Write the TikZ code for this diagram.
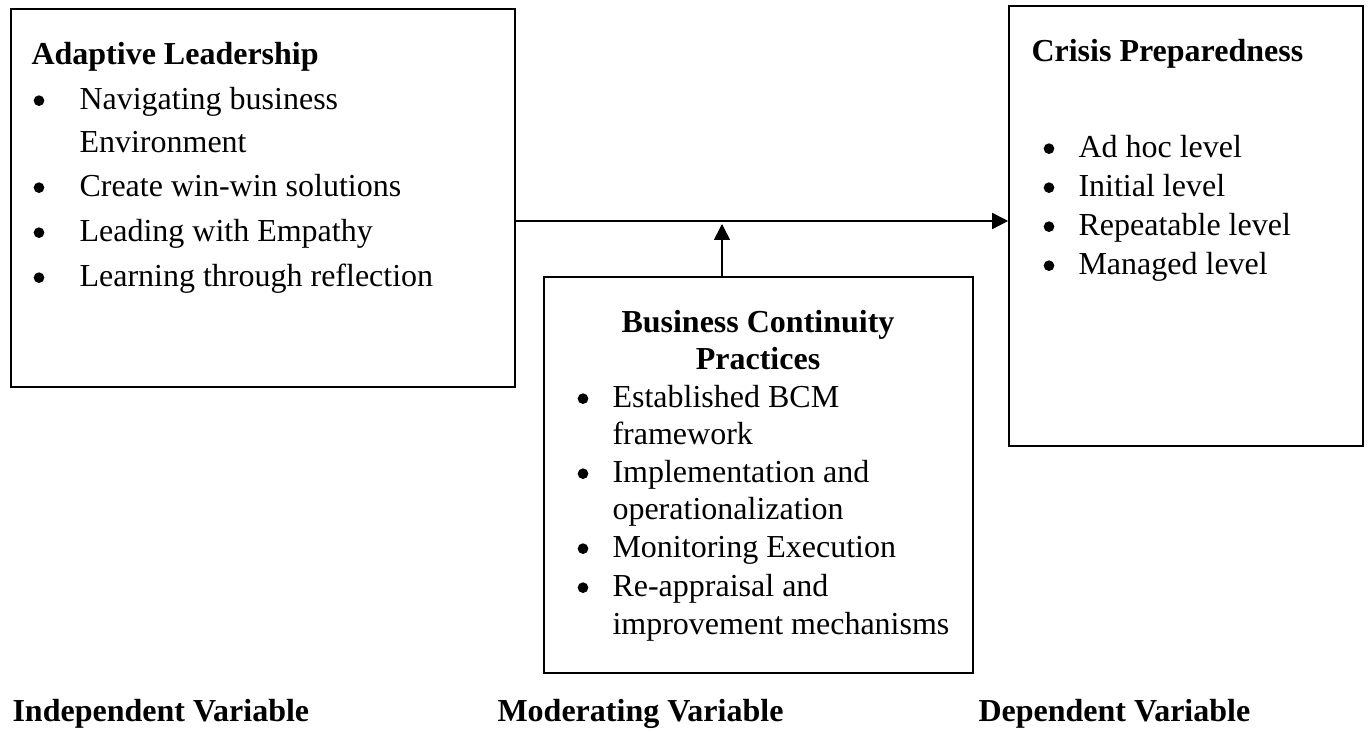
\documentclass[tikz,border=0pt]{standalone}
\usepackage{fontspec}
\setmainfont{Liberation Serif}
\usetikzlibrary{arrows.meta}
\begin{document}
\begin{tikzpicture}[x=0.375pt,y=-0.375pt,
  box/.style={draw, line width=0.6pt, inner sep=0pt, rectangle},
  txt/.style={anchor=base west, inner sep=0pt, font=\fontsize{12pt}{14pt}\selectfont},
  ttl/.style={anchor=base west, inner sep=0pt, font=\fontsize{12pt}{14pt}\selectfont\bfseries},
  ttlc/.style={anchor=base, inner sep=0pt, font=\fontsize{12pt}{14pt}\selectfont\bfseries},
  bul/.style={circle, fill, inner sep=0pt, minimum size=4pt, yshift=3.5pt},
  conn/.style={line width=0.6pt, -{Triangle[length=6pt,width=6pt]}}]
\useasboundingbox (0,0) rectangle (1369,732);

% boxes
\node[box, minimum width=189pt, minimum height=141.75pt] (iv) at (263,198) {};
\node[box, minimum width=132.75pt, minimum height=165pt] (dv) at (1186,226) {};
\node[box, minimum width=160.875pt, minimum height=148.5pt] (mv) at (758.5,475) {};

% connectors
\coordinate (mid) at (722,221);
\coordinate (vtip) at (722,224);
\draw[conn] (iv.east |- mid) -- (dv.west |- mid);
\draw[conn] (mid |- mv.north) -- (vtip);

% left box text
\node[ttl] (ivt) at (31,65) {Adaptive Leadership};
\node[bul] (ivb1) at (39,110) {};
\node[txt] (iv1) at (79,110) {Navigating business};
\node[txt] (iv1b) at (79,153) {Environment};
\node[bul] (ivb2) at (39,197) {};
\node[txt] (iv2) at (79,197) {Create win-win solutions};
\node[bul] (ivb3) at (39,242) {};
\node[txt] (iv3) at (79,242) {Leading with Empathy};
\node[bul] (ivb4) at (39,287) {};
\node[txt] (iv4) at (79,287) {Learning through reflection};

% right box text
\node[ttl] (dvt) at (1031,62) {Crisis Preparedness};
\node[bul] (dvb1) at (1049,158) {};
\node[txt] (dv1) at (1078,158) {Ad hoc level};
\node[bul] (dvb2) at (1049,197) {};
\node[txt] (dv2) at (1078,197) {Initial level};
\node[bul] (dvb3) at (1049,236) {};
\node[txt] (dv3) at (1078,236) {Repeatable level};
\node[bul] (dvb4) at (1049,275) {};
\node[txt] (dv4) at (1078,275) {Managed level};

% middle box text
\node[ttlc] (mvt1) at (758,333) {Business Continuity};
\node[ttlc] (mvt2) at (758,370) {Practices};
\node[bul] (mvb1) at (583,408) {};
\node[txt] (mv1) at (612,408) {Established BCM};
\node[txt] (mv1b) at (612,445) {framework};
\node[bul] (mvb2) at (583,483) {};
\node[txt] (mv2) at (612,483) {Implementation and};
\node[txt] (mv2b) at (612,520) {operationalization};
\node[bul] (mvb3) at (583,558) {};
\node[txt] (mv3) at (612,558) {Monitoring Execution};
\node[bul] (mvb4) at (583,597) {};
\node[txt] (mv4) at (612,597) {Re-appraisal and};
\node[txt] (mv4b) at (612,635) {improvement mechanisms};

% bottom labels
\node[ttl] (lbl1) at (12,722) {Independent Variable};
\node[ttl] (lbl2) at (497,722) {Moderating Variable};
\node[ttl] (lbl3) at (978,722) {Dependent Variable};
\end{tikzpicture}
\end{document}
